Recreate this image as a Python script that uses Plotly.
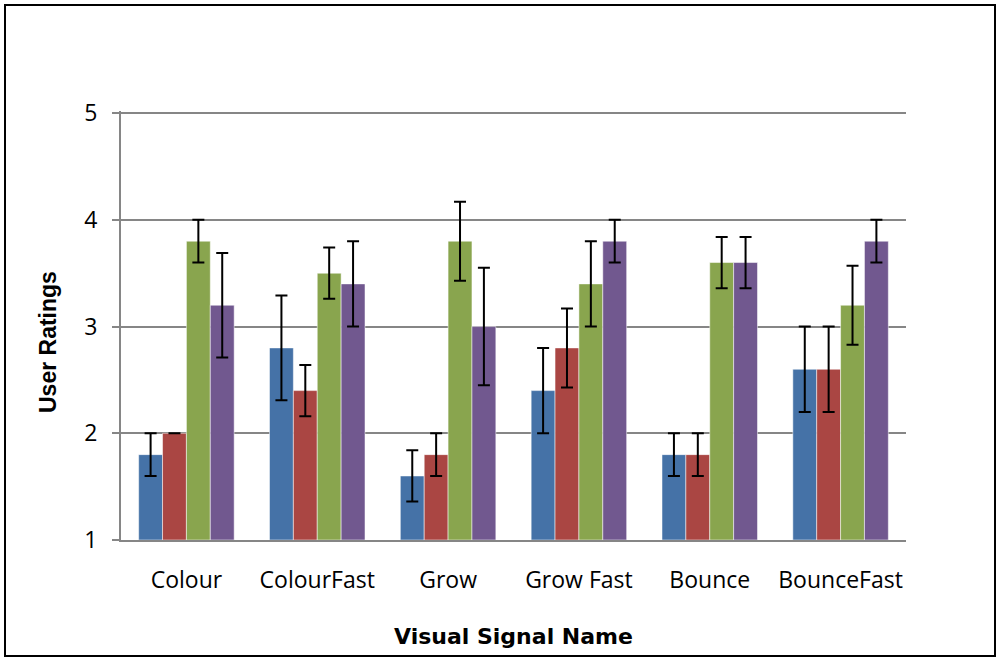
import plotly.graph_objects as go

categories = ["Colour", "ColourFast", "Grow", "Grow Fast", "Bounce", "BounceFast"]
series_names = ["Series 1", "Series 2", "Series 3", "Series 4"]
values = [
    [1.8, 2.8, 1.6, 2.4, 1.8, 2.6],
    [2.0, 2.4, 1.8, 2.8, 1.8, 2.6],
    [3.8, 3.5, 3.8, 3.4, 3.6, 3.2],
    [3.2, 3.4, 3.0, 3.8, 3.6, 3.8],
]
errors = [
    [0.2, 0.49, 0.24, 0.4, 0.2, 0.4],
    [0.0, 0.24, 0.2, 0.37, 0.2, 0.4],
    [0.2, 0.24, 0.37, 0.4, 0.24, 0.37],
    [0.49, 0.4, 0.55, 0.2, 0.24, 0.2],
]
colors = ["#4572A7", "#AA4643", "#89A54E", "#71588F"]
y_ticks = [1, 2, 3, 4, 5]
x_title = "Visual Signal Name"
y_title = "User Ratings"

# plot area geometry in pixels
L, R, T, B = 121, 906, 111, 540
PW, PH = R - L, B - T

def px_x(p):
    return (p - L) / PW

def px_y(p):
    return (B - p) / PH

fig = go.Figure()
for name, vals, errs, col in zip(series_names, values, errors, colors):
    fig.add_trace(go.Bar(
        x=categories, y=[v - 1 for v in vals], base=1, name=name,
        marker=dict(color=col, line=dict(color="rgba(255,255,255,0.5)", width=1)),
        error_y=dict(type="data", array=errs, visible=True, color="black",
                     thickness=2, width=6),
    ))

fig.update_layout(
    width=997, height=658,
    margin=dict(l=L, r=997 - R, t=T, b=658 - B),
    paper_bgcolor="white", plot_bgcolor="white",
    barmode="group", bargap=0.27, bargroupgap=0,
    showlegend=False,
    font=dict(family="Open Sans, sans-serif", size=23, color="black"),
    xaxis=dict(
        showline=True, linecolor="#868686", linewidth=2,
        ticks="", showgrid=False,
        tickfont=dict(size=23), ticklabelstandoff=18,
    ),
    yaxis=dict(
        range=[1, 5.02], tickvals=y_ticks,
        showline=True, linecolor="#868686", linewidth=2,
        ticks="outside", ticklen=7, tickcolor="#868686", tickwidth=2,
        showgrid=True, gridcolor="#868686", gridwidth=2,
        zeroline=False,
        tickfont=dict(size=23), ticklabelstandoff=10,
    ),
)

fig.add_annotation(text=x_title, xref="paper", yref="paper",
                   x=px_x(513.5), y=px_y(636), showarrow=False,
                   xanchor="center", yanchor="middle",
                   font=dict(family="DejaVu Sans", size=22, color="black", weight="bold"))
fig.add_annotation(text=y_title, xref="paper", yref="paper",
                   x=px_x(48), y=px_y(342), showarrow=False, textangle=-90,
                   xanchor="center", yanchor="middle",
                   font=dict(family="Liberation Sans, Arial", size=23, color="black", weight="bold"))

fig.add_shape(type="rect", xref="paper", yref="paper",
              x0=px_x(5), x1=px_x(995), y0=px_y(656), y1=px_y(5),
              line=dict(color="black", width=2), layer="above")

fig.write_html("out.html", config={"displayModeBar": False},
               post_script="document.body.style.margin='0px';")
